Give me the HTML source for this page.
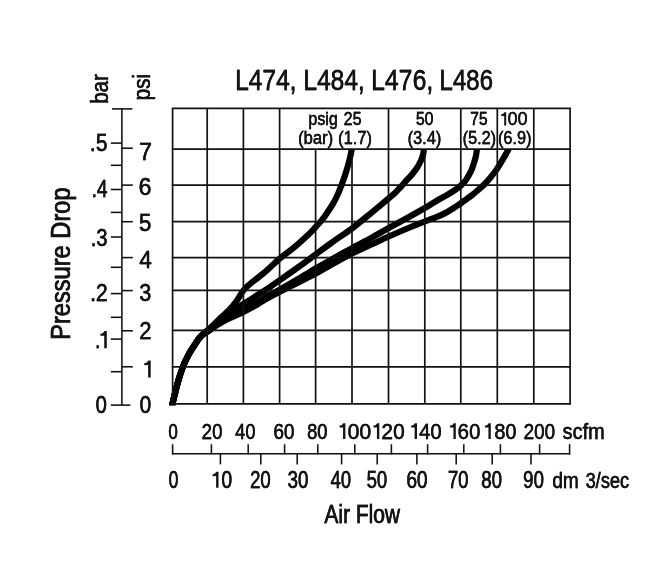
<!DOCTYPE html>
<html><head><meta charset="utf-8"><title>Pressure Drop vs Air Flow</title>
<style>
html,body{margin:0;padding:0;background:#fff;}
body{width:650px;height:584px;overflow:hidden;font-family:"Liberation Sans",sans-serif;}
svg{display:block;filter:grayscale(1)}
</style></head><body>
<svg width="650" height="584" viewBox="0 0 650 584">
<rect width="650" height="584" fill="#fff"/>
<defs><clipPath id="cp"><rect x="160" y="149.1" width="420" height="256.1"/></clipPath></defs>
<g clip-path="url(#cp)" fill="none" stroke="#000" stroke-width="6.2" stroke-linejoin="round">
<path d="M172.4,406.0 C172.4,405.6 172.2,405.5 172.5,403.9 C172.8,402.3 173.3,400.0 174.2,396.5 C175.1,393.0 176.3,387.7 177.7,382.8 C179.1,377.9 181.1,371.6 182.8,367.0 C184.6,362.4 186.2,359.2 188.2,355.4 C190.2,351.6 192.9,347.6 195.0,344.4 C197.1,341.2 198.5,338.8 200.9,336.2 C203.3,333.6 206.2,331.6 209.2,328.9 C212.2,326.1 215.4,322.8 218.7,319.7 C222.0,316.6 226.1,313.3 229.0,310.2 C231.9,307.1 234.3,304.1 236.4,301.3 C238.5,298.5 239.9,295.4 241.5,293.1 C243.1,290.8 244.1,289.5 246.2,287.4 C248.3,285.3 251.1,283.1 254.2,280.6 C257.3,278.1 260.6,275.9 264.8,272.2 C269.1,268.5 274.7,262.8 279.7,258.6 C284.7,254.4 290.0,250.9 294.8,246.9 C299.6,242.9 305.0,237.9 308.5,234.6 C312.0,231.2 313.6,229.2 315.8,226.8 C317.9,224.5 319.6,222.9 321.6,220.5 C323.6,218.1 325.6,215.2 327.5,212.3 C329.4,209.5 331.5,206.3 333.2,203.4 C334.9,200.5 336.2,197.7 337.5,195.0 C338.8,192.3 339.8,189.6 340.8,187.0 C341.8,184.4 342.7,182.1 343.6,179.5 C344.5,176.9 345.4,174.2 346.2,171.5 C347.0,168.8 347.9,166.0 348.6,163.3 C349.3,160.6 350.1,157.4 350.6,155.1 C351.1,152.8 351.4,151.2 351.7,149.3 C352.0,147.5 352.3,144.9 352.4,144.0"/>
<path d="M172.4,406.0 C172.4,405.6 172.2,405.5 172.5,403.9 C172.8,402.3 173.3,400.0 174.2,396.5 C175.1,393.0 176.3,387.7 177.7,382.8 C179.1,377.9 181.1,371.6 182.8,367.0 C184.6,362.4 186.2,359.2 188.2,355.4 C190.2,351.6 192.9,347.6 195.0,344.4 C197.1,341.2 198.5,338.7 200.9,336.2 C203.3,333.7 206.2,332.1 209.2,329.6 C212.2,327.1 215.5,323.9 218.7,321.2 C221.9,318.5 225.2,316.0 228.4,313.7 C231.6,311.4 234.7,309.5 238.0,307.4 C241.3,305.3 244.8,303.1 248.1,301.0 C251.4,298.9 254.4,297.0 257.6,295.0 C260.8,293.0 263.7,291.4 267.4,288.9 C271.1,286.4 275.1,283.4 279.7,280.2 C284.3,277.0 290.0,273.0 294.8,269.6 C299.6,266.2 305.0,262.3 308.5,259.7 C312.0,257.1 311.6,257.2 315.8,254.2 C319.9,251.2 327.3,245.8 333.3,241.5 C339.3,237.2 345.6,233.2 352.0,228.4 C358.4,223.6 365.5,217.6 371.6,212.6 C377.7,207.6 384.8,201.7 388.6,198.5 C392.5,195.3 392.7,195.2 394.7,193.3 C396.7,191.4 398.8,189.0 400.8,186.8 C402.8,184.7 404.6,182.5 406.5,180.4 C408.4,178.3 410.4,176.4 412.2,174.2 C414.0,172.0 415.9,169.7 417.3,167.4 C418.8,165.1 419.9,162.6 420.9,160.5 C421.8,158.4 422.5,157.0 423.0,155.1 C423.5,153.2 423.6,151.2 423.9,149.3 C424.1,147.5 424.4,144.9 424.5,144.0"/>
<path d="M172.4,406.0 C172.4,405.6 172.2,405.5 172.5,403.9 C172.8,402.3 173.3,400.0 174.2,396.5 C175.1,393.0 176.3,387.7 177.7,382.8 C179.1,377.9 181.1,371.6 182.8,367.0 C184.6,362.4 186.2,359.2 188.2,355.4 C190.2,351.6 192.9,347.6 195.0,344.4 C197.1,341.2 198.5,338.6 200.9,336.2 C203.3,333.8 206.2,332.4 209.2,330.2 C212.2,328.0 215.5,325.2 218.7,323.0 C221.9,320.8 224.5,319.1 228.4,316.9 C232.3,314.7 237.0,312.5 241.9,310.0 C246.8,307.5 253.4,304.3 257.6,302.0 C261.9,299.7 263.7,298.3 267.4,296.2 C271.1,294.1 275.1,292.1 279.7,289.6 C284.3,287.1 290.0,283.8 294.8,281.0 C299.6,278.2 305.0,274.9 308.5,272.8 C312.0,270.7 311.6,270.7 315.8,268.3 C319.9,265.9 327.3,261.9 333.3,258.5 C339.3,255.1 345.8,251.5 352.0,248.1 C358.2,244.7 364.7,241.5 370.8,238.2 C376.9,234.8 382.4,231.5 388.7,228.0 C395.0,224.5 402.5,220.5 408.5,217.2 C414.5,213.9 420.2,210.7 424.8,208.0 C429.4,205.3 432.3,203.3 436.0,201.2 C439.7,199.0 443.7,196.9 446.8,195.1 C449.9,193.3 452.2,191.8 454.5,190.3 C456.8,188.8 458.8,187.4 460.5,185.9 C462.2,184.4 463.6,183.0 465.0,181.3 C466.4,179.6 467.4,177.7 468.6,175.6 C469.8,173.5 471.1,171.1 472.0,168.8 C472.9,166.5 473.6,164.2 474.3,161.9 C475.0,159.6 475.7,157.2 476.1,155.1 C476.5,153.0 476.7,151.2 476.9,149.3 C477.1,147.5 477.4,144.9 477.5,144.0"/>
<path d="M172.4,406.0 C172.4,405.6 172.2,405.5 172.5,403.9 C172.8,402.3 173.3,400.0 174.2,396.5 C175.1,393.0 176.3,387.7 177.7,382.8 C179.1,377.9 181.1,371.6 182.8,367.0 C184.6,362.4 186.2,359.2 188.2,355.4 C190.2,351.6 192.9,347.6 195.0,344.4 C197.1,341.2 198.5,338.5 200.9,336.2 C203.3,333.9 206.2,332.6 209.2,330.6 C212.2,328.6 215.5,326.2 218.7,324.2 C221.9,322.2 224.5,320.7 228.4,318.8 C232.3,316.9 237.0,315.0 241.9,312.6 C246.8,310.2 253.4,306.6 257.6,304.2 C261.9,301.8 263.7,300.5 267.4,298.4 C271.1,296.3 275.1,294.2 279.7,291.8 C284.3,289.4 290.0,286.6 294.8,284.2 C299.6,281.8 305.0,279.1 308.5,277.3 C312.0,275.5 311.6,275.8 315.8,273.5 C319.9,271.2 327.3,267.0 333.3,263.6 C339.3,260.2 345.8,256.5 352.0,253.4 C358.2,250.3 364.7,247.6 370.8,244.8 C376.9,242.0 382.4,239.3 388.7,236.5 C395.0,233.7 402.5,230.5 408.5,228.0 C414.5,225.5 419.6,223.6 424.8,221.5 C430.1,219.4 436.3,217.2 440.0,215.6 C443.7,214.0 444.5,213.5 446.8,212.2 C449.1,210.9 451.3,209.5 453.7,208.0 C456.1,206.5 458.9,204.5 461.0,203.1 C463.1,201.7 464.1,200.9 466.0,199.6 C467.9,198.2 470.1,196.7 472.2,195.0 C474.3,193.3 476.5,191.4 478.5,189.7 C480.5,187.9 482.2,186.5 484.2,184.5 C486.2,182.5 488.4,180.0 490.3,177.7 C492.2,175.4 494.0,173.2 495.7,170.8 C497.4,168.4 498.9,165.9 500.5,163.3 C502.1,160.7 504.0,157.4 505.3,155.1 C506.6,152.8 507.5,151.2 508.5,149.3 C509.5,147.5 510.9,144.9 511.4,144.0"/>
</g>
<g stroke="#111" fill="none">
<line x1="171.75" y1="108.40" x2="570.95" y2="108.40" stroke-width="1.7"/>
<line x1="171.75" y1="149.10" x2="570.95" y2="149.10" stroke-width="1.7"/>
<line x1="171.75" y1="185.10" x2="570.95" y2="185.10" stroke-width="1.7"/>
<line x1="171.75" y1="221.60" x2="570.95" y2="221.60" stroke-width="1.7"/>
<line x1="171.75" y1="257.60" x2="570.95" y2="257.60" stroke-width="1.7"/>
<line x1="171.75" y1="290.40" x2="570.95" y2="290.40" stroke-width="1.7"/>
<line x1="171.75" y1="330.30" x2="570.95" y2="330.30" stroke-width="1.7"/>
<line x1="171.75" y1="366.90" x2="570.95" y2="366.90" stroke-width="1.7"/>
<line x1="171.75" y1="403.90" x2="570.95" y2="403.90" stroke-width="1.7"/>
<line x1="172.60" y1="108.40" x2="172.60" y2="403.90" stroke-width="1.7"/>
<line x1="207.20" y1="108.40" x2="207.20" y2="403.90" stroke-width="1.7"/>
<line x1="243.40" y1="108.40" x2="243.40" y2="403.90" stroke-width="1.7"/>
<line x1="279.60" y1="108.40" x2="279.60" y2="403.90" stroke-width="1.7"/>
<line x1="315.60" y1="149.10" x2="315.60" y2="403.90" stroke-width="1.7"/>
<line x1="352.00" y1="149.10" x2="352.00" y2="403.90" stroke-width="1.7"/>
<line x1="388.50" y1="108.40" x2="388.50" y2="403.90" stroke-width="1.7"/>
<line x1="424.80" y1="149.10" x2="424.80" y2="403.90" stroke-width="1.7"/>
<line x1="460.80" y1="108.40" x2="460.80" y2="403.90" stroke-width="1.7"/>
<line x1="497.30" y1="108.40" x2="497.30" y2="403.90" stroke-width="1.7"/>
<line x1="533.80" y1="108.40" x2="533.80" y2="403.90" stroke-width="1.7"/>
<line x1="570.10" y1="108.40" x2="570.10" y2="403.90" stroke-width="1.7"/>
<line x1="121.90" y1="108.60" x2="121.90" y2="405.20" stroke-width="1.55"/>
<line x1="112.00" y1="108.90" x2="132.30" y2="108.90" stroke-width="1.55"/>
<line x1="110.80" y1="405.10" x2="130.40" y2="405.10" stroke-width="1.55"/>
<line x1="110.80" y1="143.10" x2="121.90" y2="143.10" stroke-width="1.55"/>
<line x1="110.80" y1="165.30" x2="121.90" y2="165.30" stroke-width="1.55"/>
<line x1="110.80" y1="189.50" x2="121.90" y2="189.50" stroke-width="1.55"/>
<line x1="110.80" y1="212.40" x2="121.90" y2="212.40" stroke-width="1.55"/>
<line x1="110.80" y1="237.00" x2="121.90" y2="237.00" stroke-width="1.55"/>
<line x1="110.80" y1="267.30" x2="121.90" y2="267.30" stroke-width="1.55"/>
<line x1="110.80" y1="293.60" x2="121.90" y2="293.60" stroke-width="1.55"/>
<line x1="110.80" y1="317.30" x2="121.90" y2="317.30" stroke-width="1.55"/>
<line x1="110.80" y1="339.10" x2="121.90" y2="339.10" stroke-width="1.55"/>
<line x1="110.80" y1="371.70" x2="121.90" y2="371.70" stroke-width="1.55"/>
<line x1="121.90" y1="148.20" x2="132.80" y2="148.20" stroke-width="1.55"/>
<line x1="121.90" y1="185.10" x2="132.80" y2="185.10" stroke-width="1.55"/>
<line x1="121.90" y1="221.70" x2="132.80" y2="221.70" stroke-width="1.55"/>
<line x1="121.90" y1="257.60" x2="132.80" y2="257.60" stroke-width="1.55"/>
<line x1="121.90" y1="290.60" x2="132.80" y2="290.60" stroke-width="1.55"/>
<line x1="121.90" y1="330.80" x2="132.80" y2="330.80" stroke-width="1.55"/>
<line x1="121.90" y1="366.80" x2="132.80" y2="366.80" stroke-width="1.55"/>
<line x1="172.00" y1="453.80" x2="570.20" y2="453.80" stroke-width="1.55"/>
<line x1="172.60" y1="444.20" x2="172.60" y2="454.57" stroke-width="1.55"/>
<line x1="211.40" y1="444.20" x2="211.40" y2="454.57" stroke-width="1.55"/>
<line x1="248.20" y1="444.20" x2="248.20" y2="454.57" stroke-width="1.55"/>
<line x1="284.60" y1="444.20" x2="284.60" y2="454.57" stroke-width="1.55"/>
<line x1="317.80" y1="444.20" x2="317.80" y2="454.57" stroke-width="1.55"/>
<line x1="354.80" y1="444.20" x2="354.80" y2="454.57" stroke-width="1.55"/>
<line x1="391.40" y1="444.20" x2="391.40" y2="454.57" stroke-width="1.55"/>
<line x1="427.60" y1="444.20" x2="427.60" y2="454.57" stroke-width="1.55"/>
<line x1="463.80" y1="444.20" x2="463.80" y2="454.57" stroke-width="1.55"/>
<line x1="500.40" y1="444.20" x2="500.40" y2="454.57" stroke-width="1.55"/>
<line x1="539.60" y1="444.20" x2="539.60" y2="454.57" stroke-width="1.55"/>
<line x1="569.60" y1="444.20" x2="569.60" y2="454.57" stroke-width="1.55"/>
<line x1="220.40" y1="453.80" x2="220.40" y2="464.40" stroke-width="1.55"/>
<line x1="260.80" y1="453.80" x2="260.80" y2="464.40" stroke-width="1.55"/>
<line x1="297.20" y1="453.80" x2="297.20" y2="464.40" stroke-width="1.55"/>
<line x1="341.60" y1="453.80" x2="341.60" y2="464.40" stroke-width="1.55"/>
<line x1="377.20" y1="453.80" x2="377.20" y2="464.40" stroke-width="1.55"/>
<line x1="416.90" y1="453.80" x2="416.90" y2="464.40" stroke-width="1.55"/>
<line x1="456.20" y1="453.80" x2="456.20" y2="464.40" stroke-width="1.55"/>
<line x1="492.20" y1="453.80" x2="492.20" y2="464.40" stroke-width="1.55"/>
<line x1="531.00" y1="453.80" x2="531.00" y2="464.40" stroke-width="1.55"/>
</g>
<g fill="#141414" stroke="#141414" stroke-linejoin="round" font-family="Liberation Sans, sans-serif">
<text transform="translate(234.90,89.96) scale(0.8483,1)" font-size="29.00" stroke-width="0.271">L474,</text>
<text transform="translate(235.14,89.96) scale(0.8483,1)" font-size="29.00" stroke-width="0.271">L474,</text>
<text transform="translate(303.30,89.96) scale(0.8453,1)" font-size="29.00" stroke-width="0.271">L484,</text>
<text transform="translate(303.54,89.96) scale(0.8453,1)" font-size="29.00" stroke-width="0.271">L484,</text>
<text transform="translate(371.08,89.96) scale(0.8542,1)" font-size="29.00" stroke-width="0.271">L476,</text>
<text transform="translate(371.32,89.96) scale(0.8542,1)" font-size="29.00" stroke-width="0.271">L476,</text>
<text transform="translate(439.23,89.96) scale(0.8336,1)" font-size="29.00" stroke-width="0.271">L486</text>
<text transform="translate(439.47,89.96) scale(0.8336,1)" font-size="29.00" stroke-width="0.271">L486</text>
<text transform="translate(168.35,438.95) scale(0.7496,1)" font-size="22.63" stroke-width="0.302">0</text>
<text transform="translate(168.62,438.95) scale(0.7496,1)" font-size="22.63" stroke-width="0.302">0</text>
<text transform="translate(201.59,438.95) scale(0.8246,1)" font-size="22.63" stroke-width="0.302">20</text>
<text transform="translate(201.85,438.95) scale(0.8246,1)" font-size="22.63" stroke-width="0.302">20</text>
<text transform="translate(235.10,438.95) scale(0.8034,1)" font-size="22.63" stroke-width="0.302">40</text>
<text transform="translate(235.37,438.95) scale(0.8034,1)" font-size="22.63" stroke-width="0.302">40</text>
<text transform="translate(273.16,438.95) scale(0.8420,1)" font-size="22.63" stroke-width="0.302">60</text>
<text transform="translate(273.43,438.95) scale(0.8420,1)" font-size="22.63" stroke-width="0.302">60</text>
<text transform="translate(306.93,438.95) scale(0.8107,1)" font-size="22.63" stroke-width="0.302">80</text>
<text transform="translate(307.19,438.95) scale(0.8107,1)" font-size="22.63" stroke-width="0.302">80</text>
<text transform="translate(523.48,438.95) scale(0.8336,1)" font-size="22.63" stroke-width="0.302">200</text>
<text transform="translate(523.74,438.95) scale(0.8336,1)" font-size="22.63" stroke-width="0.302">200</text>
<path d="M345.40,423.20 L345.40,438.90 L343.04,438.90 L343.04,427.44 L339.51,427.60 L339.51,425.87 Q342.34,425.40 343.28,423.20 Z" stroke="none"/>
<text transform="translate(347.41,438.95) scale(0.9381,1)" font-size="22.63" stroke-width="0.302">00</text>
<text transform="translate(347.68,438.95) scale(0.9381,1)" font-size="22.63" stroke-width="0.302">00</text>
<path d="M379.30,423.20 L379.30,438.90 L376.94,438.90 L376.94,427.44 L373.41,427.60 L373.41,425.87 Q376.24,425.40 377.18,423.20 Z" stroke="none"/>
<text transform="translate(381.29,438.95) scale(0.9227,1)" font-size="22.63" stroke-width="0.302">20</text>
<text transform="translate(381.56,438.95) scale(0.9227,1)" font-size="22.63" stroke-width="0.302">20</text>
<path d="M417.00,423.20 L417.00,438.90 L414.64,438.90 L414.64,427.44 L411.11,427.60 L411.11,425.87 Q413.94,425.40 414.88,423.20 Z" stroke="none"/>
<text transform="translate(418.97,438.95) scale(0.8990,1)" font-size="22.63" stroke-width="0.302">40</text>
<text transform="translate(419.24,438.95) scale(0.8990,1)" font-size="22.63" stroke-width="0.302">40</text>
<path d="M455.80,423.20 L455.80,438.90 L453.44,438.90 L453.44,427.44 L449.91,427.60 L449.91,425.87 Q452.74,425.40 453.68,423.20 Z" stroke="none"/>
<text transform="translate(457.60,438.95) scale(0.8975,1)" font-size="22.63" stroke-width="0.302">60</text>
<text transform="translate(457.87,438.95) scale(0.8975,1)" font-size="22.63" stroke-width="0.302">60</text>
<path d="M490.80,423.20 L490.80,438.90 L488.44,438.90 L488.44,427.44 L484.91,427.60 L484.91,425.87 Q487.74,425.40 488.68,423.20 Z" stroke="none"/>
<text transform="translate(494.27,438.95) scale(0.8785,1)" font-size="22.63" stroke-width="0.302">80</text>
<text transform="translate(494.53,438.95) scale(0.8785,1)" font-size="22.63" stroke-width="0.302">80</text>
<text transform="translate(562.58,438.95) scale(0.8949,1)" font-size="22.20" stroke-width="0.296">scfm</text>
<text transform="translate(562.84,438.95) scale(0.8949,1)" font-size="22.20" stroke-width="0.296">scfm</text>
<text transform="translate(168.53,487.75) scale(0.7620,1)" font-size="23.05" stroke-width="0.307">0</text>
<text transform="translate(168.80,487.75) scale(0.7620,1)" font-size="23.05" stroke-width="0.307">0</text>
<text transform="translate(249.99,487.75) scale(0.8051,1)" font-size="23.05" stroke-width="0.307">20</text>
<text transform="translate(250.26,487.75) scale(0.8051,1)" font-size="23.05" stroke-width="0.307">20</text>
<text transform="translate(287.51,487.75) scale(0.8081,1)" font-size="23.05" stroke-width="0.307">30</text>
<text transform="translate(287.79,487.75) scale(0.8081,1)" font-size="23.05" stroke-width="0.307">30</text>
<text transform="translate(330.60,487.75) scale(0.7926,1)" font-size="23.05" stroke-width="0.307">40</text>
<text transform="translate(330.87,487.75) scale(0.7926,1)" font-size="23.05" stroke-width="0.307">40</text>
<text transform="translate(366.48,487.75) scale(0.8055,1)" font-size="23.05" stroke-width="0.307">50</text>
<text transform="translate(366.75,487.75) scale(0.8055,1)" font-size="23.05" stroke-width="0.307">50</text>
<text transform="translate(406.15,487.75) scale(0.8348,1)" font-size="23.05" stroke-width="0.307">60</text>
<text transform="translate(406.42,487.75) scale(0.8348,1)" font-size="23.05" stroke-width="0.307">60</text>
<text transform="translate(447.67,487.75) scale(0.8101,1)" font-size="23.05" stroke-width="0.307">70</text>
<text transform="translate(447.94,487.75) scale(0.8101,1)" font-size="23.05" stroke-width="0.307">70</text>
<text transform="translate(481.11,487.75) scale(0.8123,1)" font-size="23.05" stroke-width="0.307">80</text>
<text transform="translate(481.38,487.75) scale(0.8123,1)" font-size="23.05" stroke-width="0.307">80</text>
<text transform="translate(523.05,487.75) scale(0.8066,1)" font-size="23.05" stroke-width="0.307">90</text>
<text transform="translate(523.32,487.75) scale(0.8066,1)" font-size="23.05" stroke-width="0.307">90</text>
<path d="M218.50,471.70 L218.50,487.70 L216.10,487.70 L216.10,476.02 L212.50,476.18 L212.50,474.42 Q215.38,473.94 216.34,471.70 Z" stroke="none"/>
<text transform="translate(221.27,487.75) scale(0.8414,1)" font-size="23.05" stroke-width="0.307">0</text>
<text transform="translate(221.54,487.75) scale(0.8414,1)" font-size="23.05" stroke-width="0.307">0</text>
<text transform="translate(552.13,487.75) scale(0.8458,1)" font-size="22.50" stroke-width="0.300">dm</text>
<text transform="translate(552.39,487.75) scale(0.8458,1)" font-size="22.50" stroke-width="0.300">dm</text>
<text transform="translate(585.43,487.75) scale(0.8101,1)" font-size="22.50" stroke-width="0.300">3/sec</text>
<text transform="translate(585.69,487.75) scale(0.8101,1)" font-size="22.50" stroke-width="0.300">3/sec</text>
<text transform="translate(324.30,523.33) scale(0.8131,1)" font-size="25.75" stroke-width="0.343">Air Flow</text>
<text transform="translate(324.60,523.33) scale(0.8131,1)" font-size="25.75" stroke-width="0.343">Air Flow</text>
<text transform="translate(89.83,151.04) scale(0.8705,1)" font-size="24.00" stroke-width="0.320">.5</text>
<text transform="translate(90.11,151.04) scale(0.8705,1)" font-size="24.00" stroke-width="0.320">.5</text>
<text transform="translate(91.38,197.44) scale(0.7980,1)" font-size="24.00" stroke-width="0.320">.4</text>
<text transform="translate(91.66,197.44) scale(0.7980,1)" font-size="24.00" stroke-width="0.320">.4</text>
<text transform="translate(90.61,246.44) scale(0.8320,1)" font-size="24.00" stroke-width="0.320">.3</text>
<text transform="translate(90.89,246.44) scale(0.8320,1)" font-size="24.00" stroke-width="0.320">.3</text>
<text transform="translate(89.90,300.54) scale(0.8867,1)" font-size="24.00" stroke-width="0.320">.2</text>
<text transform="translate(90.18,300.54) scale(0.8867,1)" font-size="24.00" stroke-width="0.320">.2</text>
<text transform="translate(95.45,413.44) scale(0.8410,1)" font-size="24.00" stroke-width="0.320">0</text>
<text transform="translate(95.73,413.44) scale(0.8410,1)" font-size="24.00" stroke-width="0.320">0</text>
<text transform="translate(139.07,159.64) scale(0.9633,1)" font-size="24.00" stroke-width="0.320">7</text>
<text transform="translate(139.35,159.64) scale(0.9633,1)" font-size="24.00" stroke-width="0.320">7</text>
<text transform="translate(138.49,194.84) scale(0.9582,1)" font-size="24.00" stroke-width="0.320">6</text>
<text transform="translate(138.77,194.84) scale(0.9582,1)" font-size="24.00" stroke-width="0.320">6</text>
<text transform="translate(138.75,231.14) scale(0.9332,1)" font-size="24.00" stroke-width="0.320">5</text>
<text transform="translate(139.03,231.14) scale(0.9332,1)" font-size="24.00" stroke-width="0.320">5</text>
<text transform="translate(139.14,268.14) scale(0.9278,1)" font-size="24.00" stroke-width="0.320">4</text>
<text transform="translate(139.42,268.14) scale(0.9278,1)" font-size="24.00" stroke-width="0.320">4</text>
<text transform="translate(139.33,300.74) scale(0.8905,1)" font-size="24.00" stroke-width="0.320">3</text>
<text transform="translate(139.61,300.74) scale(0.8905,1)" font-size="24.00" stroke-width="0.320">3</text>
<text transform="translate(139.25,339.24) scale(0.9079,1)" font-size="24.00" stroke-width="0.320">2</text>
<text transform="translate(139.53,339.24) scale(0.9079,1)" font-size="24.00" stroke-width="0.320">2</text>
<text transform="translate(139.53,413.44) scale(0.8664,1)" font-size="24.00" stroke-width="0.320">0</text>
<text transform="translate(139.81,413.44) scale(0.8664,1)" font-size="24.00" stroke-width="0.320">0</text>
<path d="M150.70,360.40 L150.70,377.60 L148.12,377.60 L148.12,365.04 L144.25,365.22 L144.25,363.32 Q147.35,362.81 148.38,360.40 Z" stroke="none"/>
<path d="M106.80,331.00 L106.80,348.20 L104.22,348.20 L104.22,335.64 L100.35,335.82 L100.35,333.92 Q103.45,333.41 104.48,331.00 Z" stroke="none"/>
<text transform="translate(95.03,348.14) scale(0.7745,1)" font-size="24.00" stroke-width="0.320">.</text>
<text transform="translate(95.31,348.14) scale(0.7745,1)" font-size="24.00" stroke-width="0.320">.</text>
<text transform="translate(107.63,103.59) rotate(-90) scale(0.8257,1)" font-size="24.80" stroke-width="0.331">bar</text>
<text transform="translate(107.63,103.88) rotate(-90) scale(0.8257,1)" font-size="24.80" stroke-width="0.331">bar</text>
<text transform="translate(150.05,100.32) rotate(-90) scale(0.8940,1)" font-size="23.17" stroke-width="0.309">psi</text>
<text transform="translate(150.05,100.60) rotate(-90) scale(0.8940,1)" font-size="23.17" stroke-width="0.309">psi</text>
<text transform="translate(69.61,339.75) rotate(-90) scale(0.8378,1)" font-size="28.23" stroke-width="0.376">Pressure Drop</text>
<text transform="translate(69.61,340.08) rotate(-90) scale(0.8378,1)" font-size="28.23" stroke-width="0.376">Pressure Drop</text>
<text transform="translate(308.28,125.47) scale(0.8503,1)" font-size="18.80" stroke-width="0.251">psig</text>
<text transform="translate(308.50,125.47) scale(0.8503,1)" font-size="18.80" stroke-width="0.251">psig</text>
<text transform="translate(343.50,125.47) scale(0.8585,1)" font-size="18.80" stroke-width="0.251">25</text>
<text transform="translate(343.72,125.47) scale(0.8585,1)" font-size="18.80" stroke-width="0.251">25</text>
<text transform="translate(297.98,143.97) scale(0.8821,1)" font-size="18.80" stroke-width="0.251">(bar)</text>
<text transform="translate(298.20,143.97) scale(0.8821,1)" font-size="18.80" stroke-width="0.251">(bar)</text>
<text transform="translate(337.99,143.97) scale(0.8771,1)" font-size="18.80" stroke-width="0.251">(1.7)</text>
<text transform="translate(338.21,143.97) scale(0.8771,1)" font-size="18.80" stroke-width="0.251">(1.7)</text>
<text transform="translate(415.67,125.47) scale(0.8477,1)" font-size="18.80" stroke-width="0.251">50</text>
<text transform="translate(415.89,125.47) scale(0.8477,1)" font-size="18.80" stroke-width="0.251">50</text>
<text transform="translate(407.60,143.97) scale(0.8689,1)" font-size="18.80" stroke-width="0.251">(3.4)</text>
<text transform="translate(407.82,143.97) scale(0.8689,1)" font-size="18.80" stroke-width="0.251">(3.4)</text>
<text transform="translate(470.10,125.47) scale(0.8387,1)" font-size="18.80" stroke-width="0.251">75</text>
<text transform="translate(470.32,125.47) scale(0.8387,1)" font-size="18.80" stroke-width="0.251">75</text>
<text transform="translate(462.60,143.97) scale(0.8634,1)" font-size="18.80" stroke-width="0.251">(5.2)</text>
<text transform="translate(462.82,143.97) scale(0.8634,1)" font-size="18.80" stroke-width="0.251">(5.2)</text>
<path d="M506.20,112.30 L506.20,125.60 L504.20,125.60 L504.20,115.89 L501.21,116.02 L501.21,114.56 Q503.61,114.16 504.40,112.30 Z" stroke="none"/>
<text transform="translate(507.62,125.47) scale(0.9485,1)" font-size="18.80" stroke-width="0.251">00</text>
<text transform="translate(507.84,125.47) scale(0.9485,1)" font-size="18.80" stroke-width="0.251">00</text>
<text transform="translate(497.90,143.97) scale(0.8661,1)" font-size="18.80" stroke-width="0.251">(6.9)</text>
<text transform="translate(498.12,143.97) scale(0.8661,1)" font-size="18.80" stroke-width="0.251">(6.9)</text>
</g>
</svg>
</body></html>
